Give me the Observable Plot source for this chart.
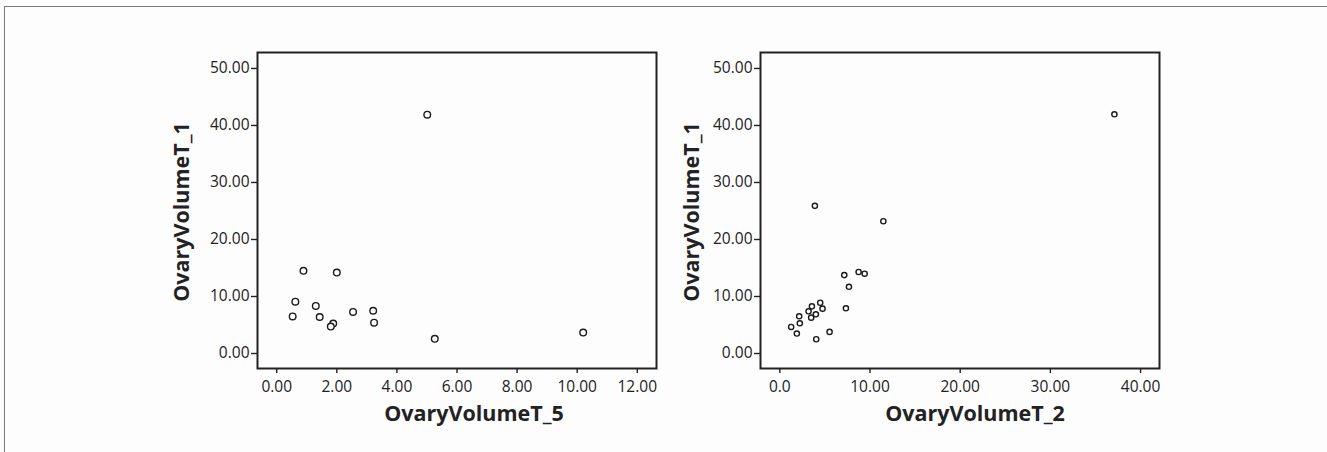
<!DOCTYPE html>
<html><head><meta charset="utf-8">
<script src="https://cdn.jsdelivr.net/npm/d3@7"></script>
<script src="https://cdn.jsdelivr.net/npm/@observablehq/plot@0.6"></script>
<style>
body{margin:0;background:#fdfdfd;}
#wrap{position:relative;width:1327px;height:452px;overflow:hidden;background:#fdfdfd;}
#border{position:absolute;left:4px;top:6px;right:-4px;bottom:-4px;border-top:1.5px solid #7a7a7a;border-left:1.5px solid #7a7a7a;}
#p1{position:absolute;left:0;top:0}
#p2{position:absolute;left:680px;top:0}
</style></head><body>
<div id="wrap"><div id="border"></div><div id="p1"></div><div id="p2"></div></div>
<script>
// Left panel: OvaryVolumeT_5 vs OvaryVolumeT_1
const ovaryT5 = [5.01, 0.89, 2.00, 0.62, 1.30, 0.53, 1.43, 2.54, 3.21, 3.24, 1.88, 1.80, 5.26, 10.2];
const ovaryT1_left = [41.9, 14.5, 14.2, 9.1, 8.35, 6.5, 6.4, 7.3, 7.5, 5.4, 5.25, 4.73, 2.57, 3.68];
// Right panel: OvaryVolumeT_2 vs OvaryVolumeT_1
const ovaryT2 = [37.1, 3.89, 11.48, 7.15, 8.74, 9.41, 7.67, 7.33, 4.48, 4.74, 3.56, 3.19, 4.0, 3.48, 2.15, 2.22, 1.26, 1.89, 5.52, 4.04];
const ovaryT1_right = [41.96, 25.9, 23.2, 13.75, 14.3, 14.0, 11.7, 7.93, 8.9, 7.87, 8.27, 7.4, 6.88, 6.29, 6.53, 5.3, 4.66, 3.5, 3.79, 2.5];

const yTicks = [0, 10, 20, 30, 40, 50];
const yTickLabels = ["0.00", "10.00", "20.00", "30.00", "40.00", "50.00"];
const leftXTicks = [0, 2, 4, 6, 8, 10, 12];
const leftXTickLabels = ["0.00", "2.00", "4.00", "6.00", "8.00", "10.00", "12.00"];
const rightXTicks = [0, 10, 20, 30, 40];
const rightXTickLabels = ["0.0", "10.00", "20.00", "30.00", "40.00"];

const xTitles = ["OvaryVolumeT_5", "OvaryVolumeT_2"];
const yTitle = "OvaryVolumeT_1";

function scatter(o) {
  const data = o.xs.map((x, i) => ({x, y: o.ys[i]}));
  return Plot.plot({
    width: o.width, height: 452,
    marginLeft: o.ml, marginRight: o.mr, marginTop: 52, marginBottom: 84,
    style: {background: "transparent", fontFamily: "'Open Sans', sans-serif", fontSize: "15.5px", color: "#222", overflow: "visible"},
    x: {domain: o.xDomain},
    y: {domain: [-2.63, 52.8]},
    marks: [
      Plot.axisX(o.xTicks, {tickFormat: d => o.xLabels[o.xTicks.indexOf(d)], tickSize: 5, tickPadding: 7, label: null, fontSize: 15.5, stroke: "#222", strokeWidth: 1.4, fill: "#222"}),
      Plot.axisY(yTicks, {tickFormat: d => yTickLabels[yTicks.indexOf(d)], tickSize: 6, tickPadding: 2, label: null, fontSize: 15.5, stroke: "#222", strokeWidth: 1.4, fill: "#222"}),
      Plot.frame({stroke: "#222", strokeWidth: 2}),
      Plot.dot(data, {x: "x", y: "y", r: o.r, stroke: "#1a1a1a", strokeWidth: 1.4, fill: "white"}),
      Plot.text([o.xTitle], {text: d => d, frameAnchor: "bottom", textAnchor: "middle", dy: 46, dx: o.tdx, lineAnchor: "middle", fontSize: 21.5, fontWeight: "bold", fill: "#222"}),
      Plot.text([yTitle], {text: d => d, frameAnchor: "left", textAnchor: "middle", rotate: -90, dx: o.ydx, dy: 1.5, lineAnchor: "middle", fontSize: 21.5, fontWeight: "bold", fill: "#222"})
    ]
  });
}

document.getElementById("p1").append(scatter({
  xs: ovaryT5, ys: ovaryT1_left, xDomain: [-0.64, 12.64], xTicks: leftXTicks, xLabels: leftXTickLabels,
  xTitle: xTitles[0], width: 680, ml: 257, mr: 24, r: 3.3, tdx: 17, ydx: -75
}));
document.getElementById("p2").append(scatter({
  xs: ovaryT2, ys: ovaryT1_right, xDomain: [-2.14, 42.1], xTicks: rightXTicks, xLabels: rightXTickLabels,
  xTitle: xTitles[1], width: 647, ml: 80, mr: 168, r: 2.6, tdx: 15, ydx: -68.5
}));
</script>
</body></html>
